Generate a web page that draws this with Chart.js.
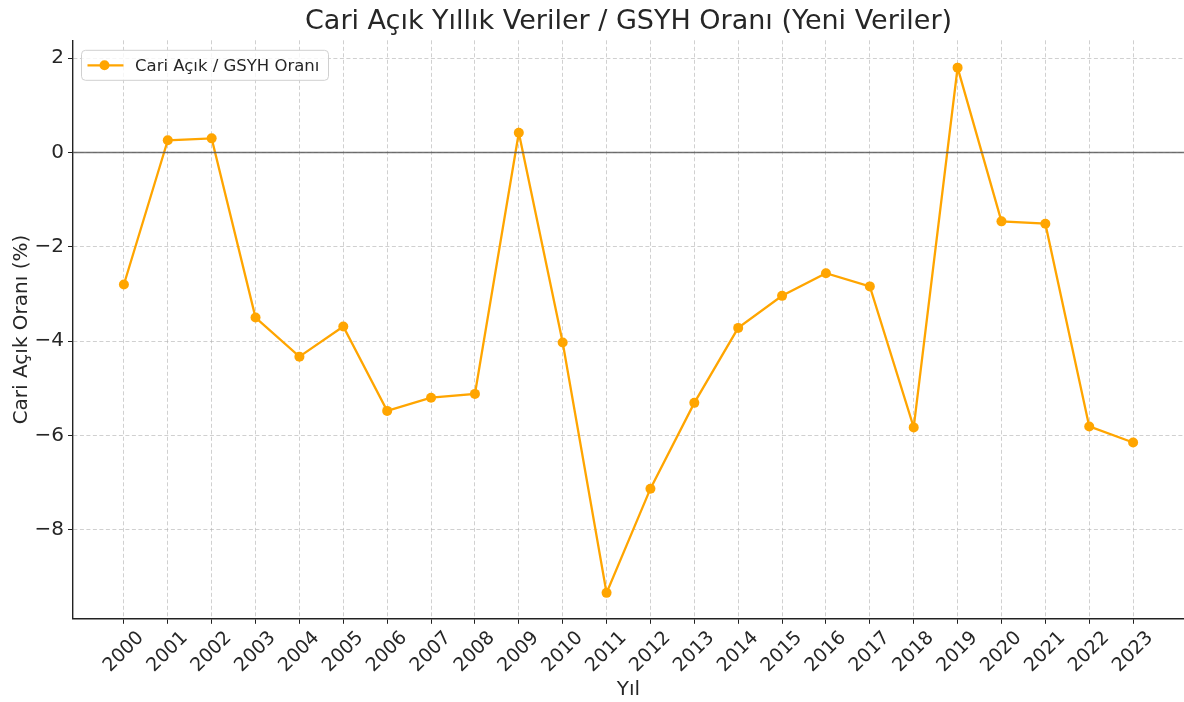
<!DOCTYPE html>
<html>
<head>
<meta charset="utf-8">
<script src="https://cdn.jsdelivr.net/npm/chart.js@4/dist/chart.umd.min.js"></script>
<style>
html,body{margin:0;padding:0;background:#fff;}
#wrap{width:1184px;height:702px;}
</style>
</head>
<body>
<div id="wrap"><canvas id="c" width="1184" height="702"></canvas></div>
<script>
const years = [2000,2001,2002,2003,2004,2005,2006,2007,2008,2009,2010,2011,2012,2013,2014,2015,2016,2017,2018,2019,2020,2021,2022,2023];
const ratios = [-2.80,0.26,0.30,-3.50,-4.33,-3.69,-5.48,-5.20,-5.12,0.42,-4.03,-9.34,-7.13,-5.31,-3.72,-3.04,-2.56,-2.84,-5.83,1.80,-1.46,-1.51,-5.81,-6.15];
const seriesLabel = 'Cari Açık / GSYH Oranı';
const titleText = 'Cari Açık Yıllık Veriler / GSYH Oranı (Yeni Veriler)';
const xTitle = 'Yıl';
const yTitle = 'Cari Açık Oranı (%)';

const FONT = "'DejaVu Sans', sans-serif";
const TXT = '#262626';
const ORANGE = '#FFA500';

const zeroLine = {
  id: 'zeroLine',
  afterDatasetsDraw(chart) {
    const {ctx, chartArea} = chart;
    const y = chart.scales.y.getPixelForValue(0);
    ctx.save();
    ctx.strokeStyle = 'rgba(90,90,90,0.85)';
    ctx.lineWidth = 1.3;
    ctx.beginPath();
    ctx.moveTo(chartArea.left, y);
    ctx.lineTo(chartArea.right, y);
    ctx.stroke();
    ctx.restore();
  }
};

const titleDraw = {
  id: 'titleDraw',
  afterDraw(chart) {
    const {ctx, chartArea} = chart;
    ctx.save();
    ctx.fillStyle = TXT;
    ctx.font = '27px ' + FONT;
    ctx.textAlign = 'center';
    ctx.textBaseline = 'middle';
    ctx.fillText(titleText, (chartArea.left + chartArea.right) / 2, 22);
    ctx.restore();
  }
};

const legendBox = {
  id: 'legendBox',
  afterDraw(chart) {
    const {ctx, chartArea} = chart;
    const x = chartArea.left + 8.5, y = chartArea.top + 10, w = 247, h = 30, r = 4;
    ctx.save();
    ctx.fillStyle = 'rgba(255,255,255,0.8)';
    ctx.strokeStyle = '#d0d0d0';
    ctx.lineWidth = 1;
    ctx.beginPath();
    ctx.roundRect(x, y, w, h, r);
    ctx.fill();
    ctx.stroke();
    const cy = y + h / 2;
    ctx.strokeStyle = ORANGE;
    ctx.lineWidth = 2.3;
    ctx.beginPath();
    ctx.moveTo(x + 6, cy);
    ctx.lineTo(x + 42, cy);
    ctx.stroke();
    ctx.fillStyle = ORANGE;
    ctx.beginPath();
    ctx.arc(x + 23, cy, 5, 0, Math.PI * 2);
    ctx.fill();
    ctx.fillStyle = TXT;
    ctx.font = '16.5px ' + FONT;
    ctx.textBaseline = 'middle';
    ctx.fillText(seriesLabel, x + 53.5, cy + 1);
    ctx.restore();
  }
};

new Chart(document.getElementById('c'), {
  type: 'line',
  data: {
    datasets: [{
      label: seriesLabel,
      data: years.map((yr, i) => ({x: yr, y: ratios[i]})),
      borderColor: ORANGE,
      backgroundColor: ORANGE,
      borderWidth: 2.3,
      pointRadius: 5,
      pointHoverRadius: 5,
      pointBorderWidth: 0,
      tension: 0,
      clip: false
    }]
  },
  options: {
    responsive: false,
    animation: false,
    devicePixelRatio: 1,
    layout: {autoPadding: false, padding: {left: 0, right: 0, top: 40.3, bottom: 0}},
    plugins: {
      legend: {display: false},
      tooltip: {enabled: false},
      title: {display: false}
    },
    scales: {
      x: {
        type: 'linear',
        min: 1998.84,
        max: 2024.16,
        afterFit(s) { s.height = 83.2; s.paddingLeft = 0; s.paddingRight = 0; },
        afterBuildTicks(s) { s.ticks = s.ticks.filter(t => t.value >= 2000 && t.value <= 2023); },
        ticks: {
          stepSize: 1,
          includeBounds: false,
          autoSkip: false,
          maxRotation: 45,
          minRotation: 45,
          labelOffset: 17,
          padding: 3,
          color: TXT,
          font: {family: FONT, size: 19},
          callback: v => String(v)
        },
        grid: {
          color: 'rgba(176,176,176,0.75)',
          lineWidth: 0.8,
          tickColor: '#222',
          tickLength: 5,
          tickWidth: 1,
          tickBorderDash: []
        },
        border: {display: true, color: '#222', width: 1.4, dash: [4, 2.5]},
        title: {
          display: true,
          text: xTitle,
          color: TXT,
          font: {family: FONT, size: 20},
          padding: {top: 0, bottom: 0}
        }
      },
      y: {
        min: -9.89,
        max: 2.38,
        afterFit(s) { s.width = 73; s.paddingTop = 0; s.paddingBottom = 0; },
        ticks: {
          stepSize: 2,
          includeBounds: false,
          padding: 4,
          color: TXT,
          font: {family: FONT, size: 20},
          callback: v => String(v).replace('-', '\u2212')
        },
        grid: {
          color: 'rgba(176,176,176,0.75)',
          lineWidth: 0.8,
          tickColor: '#222',
          tickLength: 5,
          tickWidth: 1,
          tickBorderDash: []
        },
        border: {display: true, color: '#222', width: 1.4, dash: [4, 2.5]},
        title: {
          display: true,
          text: yTitle,
          color: TXT,
          font: {family: FONT, size: 20},
          padding: {top: 10, bottom: 10}
        }
      }
    }
  },
  plugins: [zeroLine, legendBox, titleDraw]
});
</script>
</body>
</html>
